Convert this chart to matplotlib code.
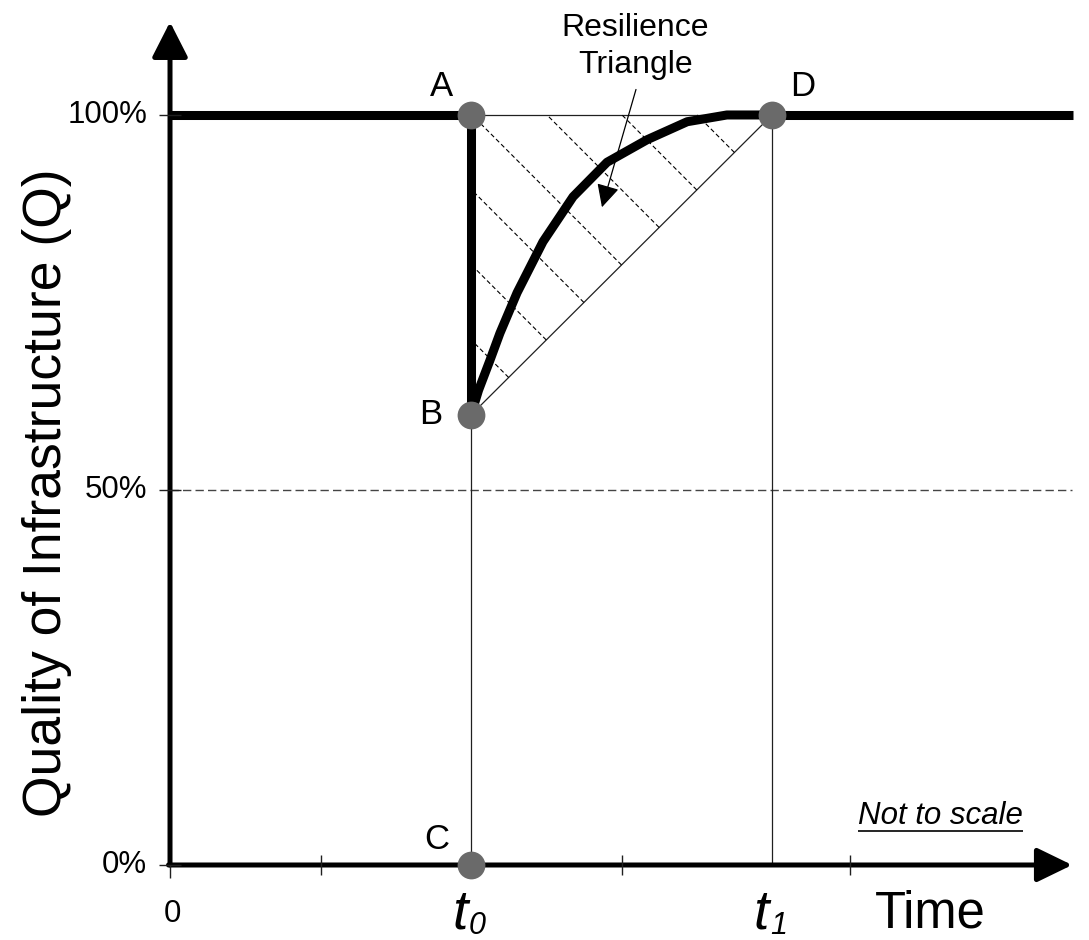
import numpy as np
import matplotlib
matplotlib.use("Agg")
import matplotlib.pyplot as plt

plt.rcParams['font.family'] = ['Liberation Sans', 'DejaVu Sans']

# ---- data ----
time_ticks = [0, 5, 15, 22.6]
q_ticks = [0, 50, 100]
q_tick_labels = ['0%', '50%', '100%']
t0 = 10
t1 = 20
q_full = 100
q_drop = 60
time_end = 30
recovery_time = [10, 10.25, 10.63, 10.96, 11.53, 12.39, 13.39, 14.52, 15.85, 17.18, 18.5, 20]
recovery_q = [60, 63.3, 67.3, 70.9, 76.3, 83.1, 89.1, 93.7, 96.7, 99.1, 100, 100]
point_names = ['A', 'B', 'C', 'D']
point_time = [t0, t0, t0, t1]
point_q = [q_full, q_drop, 0, q_full]
n_hatch = 8

# ---- figure ----
fig = plt.figure(figsize=(10.89, 9.40), dpi=100)
ax = fig.add_axes([0, 0, 1, 1])
ax.set_xlim(-5.648, 30.53)
ax.set_ylim(-10, 115.33)
ax.axis('off')

thin = dict(color='#202020', lw=0.9)
# thin construction lines
ax.plot([t0, t1], [q_full, q_full], **thin, zorder=2)
ax.plot([t0, t1], [q_drop, q_full], **thin, zorder=2)
ax.plot([t0, t0], [0, q_drop], **thin, zorder=2)
ax.plot([t1, t1], [0, q_full], **thin, zorder=2)

# 50% dashed reference
ax.plot([0, 29.95], [50, 50], color='#444444', lw=1.0, dashes=(6, 3), zorder=1)

# hatching of the resilience triangle (perpendicular to BD)
tr = ax.transData
A = tr.transform((t0, q_full))
B = tr.transform((t0, q_drop))
D = tr.transform((t1, q_full))
v = D - B
perp = np.array([-v[1], v[0]]) / np.hypot(*v)
for k in range(1, n_hatch):
    P = B + v * k / n_hatch
    s_ab = (A[0] - P[0]) / perp[0]
    s_ad = (A[1] - P[1]) / perp[1]
    s = min(s_ab, s_ad)
    Q = P + perp * s
    pts = tr.inverted().transform(np.vstack([P, Q]))
    ax.plot(pts[:, 0], pts[:, 1], color='black', lw=0.8, dashes=(4, 2.5), zorder=2)

# thick quality curve
thick = dict(color='black', lw=6.5, zorder=4)
ax.plot([0, t0], [q_full, q_full], solid_capstyle='butt', **thick)
ax.plot([t0, t0], [q_full, q_drop], solid_capstyle='butt', **thick)
ax.plot(recovery_time, recovery_q, solid_joinstyle='round', solid_capstyle='round', **thick)
ax.plot([t1, time_end], [q_full, q_full], solid_capstyle='butt', **thick)

# axes with arrows
ax.annotate('', xy=(0, 112.4), xytext=(0, 0),
            arrowprops=dict(arrowstyle='-|>,head_length=21.6,head_width=11', mutation_scale=1,
                            lw=3.6, color='black', shrinkA=0, shrinkB=0), zorder=5)
ax.annotate('', xy=(29.97, 0), xytext=(-0.05, 0),
            arrowprops=dict(arrowstyle='-|>,head_length=21.6,head_width=10.5', mutation_scale=1,
                            lw=3.6, color='black', shrinkA=0, shrinkB=0), zorder=5)

# tick marks
ax.plot(time_ticks[1:], [0] * (len(time_ticks) - 1), ls='none', marker='|', ms=14,
        mew=1.0, color='#202020', zorder=5)
ax.plot([time_ticks[0]], [0], ls='none', marker=3, ms=9, mew=1.0, color='#202020', zorder=5)
ax.plot([0] * len(q_ticks), q_ticks, ls='none', marker='_', ms=16, mew=1.0, color='#202020', zorder=5)

# tick labels
for q, lab in zip(q_ticks, q_tick_labels):
    ax.annotate(lab, xy=(0, q), xytext=(-16.5, 0), textcoords='offset points',
                ha='right', va='center', fontsize=22.5)
ax.annotate('0', xy=(time_ticks[0], 0), xytext=(1.5, -35.5), textcoords='offset points',
            ha='center', va='center', fontsize=22.5)
for t, sub in [(t0, '0'), (t1, '1')]:
    ax.annotate('t', xy=(t, 0), xytext=(-8, -45.5), textcoords='offset points',
                ha='center', va='baseline', fontsize=40, style='italic')
    ax.annotate(sub, xy=(t, 0), xytext=(-1.5, -49.5), textcoords='offset points',
                ha='left', va='baseline', fontsize=22, style='italic')

ax.annotate('Time', xy=(25.25, 0), xytext=(0, -45), textcoords='offset points',
            ha='center', va='baseline', fontsize=36.5)
ax.text(-4.09, 49.7, 'Quality of Infrastructure (Q)', rotation=90, ha='center', va='center',
        fontsize=38.5)

nts = ax.text(25.6, 5.4, 'Not to scale', ha='center', va='baseline', fontsize=22.5, style='italic')

# points
ax.plot(point_time, point_q, ls='none', marker='o', ms=20, color='#6a6a6a', mec='none', zorder=6)
label_offsets = [(-21.6, 20.5), (-28.8, 0), (-25, 18.7), (22.3, 20.5)]
for name, t, q, off in zip(point_names, point_time, point_q, label_offsets):
    ax.annotate(name, xy=(t, q), xytext=off, textcoords='offset points',
                ha='center', va='center', fontsize=25)

# resilience triangle label and its pointer
ax.text(15.45, 109.1, 'Resilience\nTriangle', ha='center', va='center',
        fontsize=23, linespacing=1.3)
ax.annotate('', xy=(14.35, 87.7), xytext=(15.48, 103.4),
            arrowprops=dict(arrowstyle='-|>,head_length=14,head_width=7', mutation_scale=1,
                            lw=0.9, color='black', shrinkA=0, shrinkB=0), zorder=7)

# underline for "Not to scale"
fig.canvas.draw()
bb = nts.get_window_extent(renderer=fig.canvas.get_renderer())
ul = tr.inverted().transform([[bb.x0, bb.y0 + 0.5], [bb.x1, bb.y0 + 0.5]])
ax.plot(ul[:, 0], ul[:, 1], color='black', lw=1.2, solid_capstyle='butt')

fig.savefig('out.png', dpi=100)
